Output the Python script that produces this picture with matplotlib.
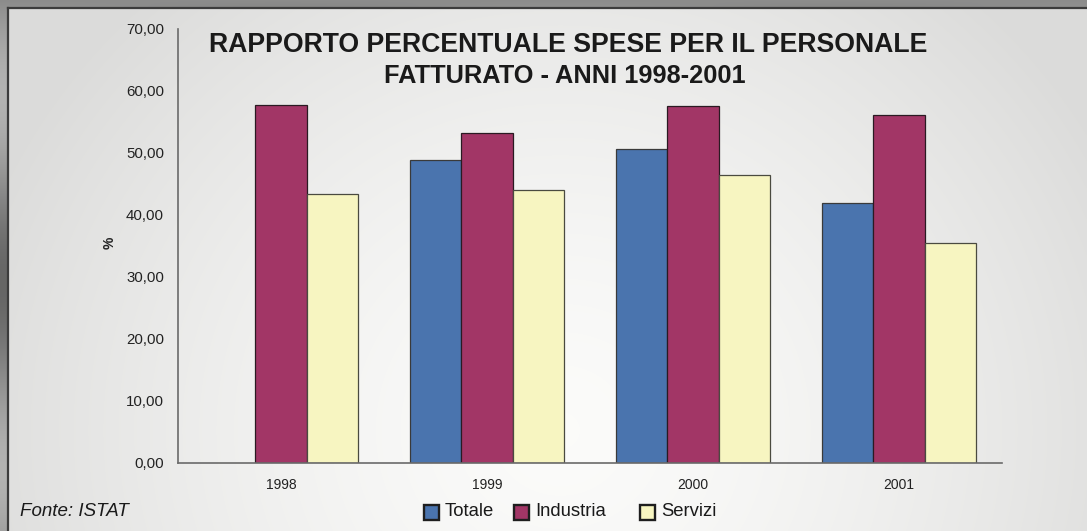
import numpy as np
import matplotlib
matplotlib.use("Agg")
import matplotlib.pyplot as plt
from matplotlib.patches import Rectangle

# ---- data ----
years = ["1998", "1999", "2000", "2001"]
series_names = ["Totale", "Industria", "Servizi"]
totale = [np.nan, 48.9, 50.6, 42.0]
industria = [57.7, 53.3, 57.6, 56.2]
servizi = [43.4, 44.0, 46.5, 35.5]
yticks = [0, 10, 20, 30, 40, 50, 60, 70]
colors = ["#4a74ae", "#a23666", "#f7f5c1"]
edges = ["#3a3a3a", "#2a1a22", "#4a4a40"]

W, H = 1087, 531
fig = plt.figure(figsize=(W / 100, H / 100), dpi=100)
plt.rcParams['font.family'] = ['Liberation Sans', 'DejaVu Sans']

# background
bg = fig.add_axes([0, 0, 1, 1], zorder=-10)
bg.axis("off")
yy, xx = np.mgrid[0:H, 0:W]
outer = 0.55 + 0.15 * np.sin(yy / 60.0) * np.cos(xx / 90.0)
r = np.sqrt((xx - 560) ** 2 + ((yy - 430) / 0.95) ** 2)
t = np.clip(r / 620.0, 0, 1)
inner = 0.985 - 0.125 * t ** 1.5
img = np.where((xx >= 9) & (yy >= 9), inner, outer)
rgb = np.stack([img, img, img * 0.995], axis=-1)
bg.imshow(rgb, extent=(0, W, H, 0), aspect="auto", interpolation="bilinear")
bg.plot([8, 8], [8, H], color="#3c3c3c", lw=1.6)
bg.plot([8, W], [8, 8], color="#3c3c3c", lw=1.6)
bg.set_xlim(0, W)
bg.set_ylim(H, 0)

# main axes
ax = fig.add_axes([178 / W, (H - 463) / H, (1002 - 178) / W, (463 - 29) / H])
ax.patch.set_alpha(0)
x = np.arange(len(years))
bw = 0.25
for i, (vals, c, e, name) in enumerate(zip([totale, industria, servizi], colors, edges, series_names)):
    ax.bar(x + (i - 1) * bw, vals, width=bw, color=c, edgecolor=e, linewidth=0.9, label=name)

ax.set_xlim(-0.5, len(years) - 0.5)
ax.set_ylim(0, 70)
ax.set_yticks(yticks)
ax.set_yticklabels([f"{v:.2f}".replace(".", ",") for v in yticks], fontsize=10.8, color="#222222")
ax.set_xticks(x)
ax.set_xticklabels(years, fontsize=10, color="#222222")
ax.tick_params(axis="both", length=0)
ax.tick_params(axis="y", pad=10)
ax.tick_params(axis="x", pad=11)
for s in ["top", "right"]:
    ax.spines[s].set_visible(False)
for s in ["left", "bottom"]:
    ax.spines[s].set_color("#6a6a6a")
    ax.spines[s].set_linewidth(1.2)

fig.text(110 / W, 1 - 243 / H, "%", rotation=90, fontsize=10, fontweight="bold",
         ha="center", va="center", color="#222222")

fig.text(568 / W, 1 - 45 / H, "RAPPORTO PERCENTUALE SPESE PER IL PERSONALE",
         fontsize=19.2, fontweight="bold", ha="center", va="center", color="#1a1a1a")
fig.text(565 / W, 1 - 76 / H, "FATTURATO - ANNI 1998-2001",
         fontsize=18.3, fontweight="bold", ha="center", va="center", color="#1a1a1a")

fig.text(20 / W, 1 - 512 / H, "Fonte: ISTAT", fontsize=13.5, style="italic",
         ha="left", va="center", color="#1a1a1a")

# legend (manual placement)
leg_x = [424, 514, 640]
for lx, c, name in zip(leg_x, colors, series_names):
    fig.patches.append(Rectangle((lx / W, (H - 519.5) / H), 15 / W, 15 / H, transform=fig.transFigure,
                                 facecolor=c, edgecolor="#1e1e1e", linewidth=1.7))
    fig.text((lx + 21) / W, 1 - 512 / H, name, fontsize=13.3, ha="left", va="center", color="#1a1a1a")

fig.savefig("out.png", dpi=100)
